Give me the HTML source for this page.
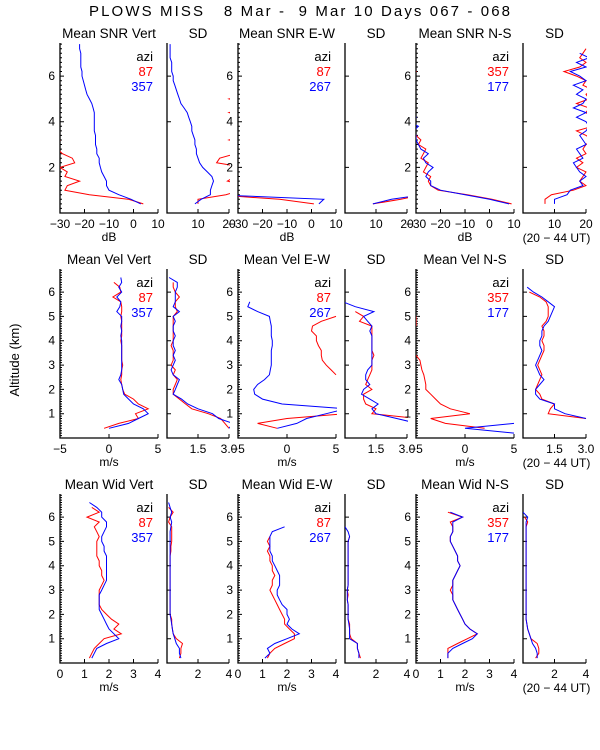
<!DOCTYPE html>
<html><head><meta charset="utf-8"><style>
html,body{margin:0;padding:0;background:#fff;}
svg{display:block;font-family:"Liberation Sans",sans-serif;}
</style></head><body>
<svg id="chart" width="600" height="750" viewBox="0 0 600 750">
<text x="89" y="16" font-size="15" textLength="421" lengthAdjust="spacing" xml:space="preserve">PLOWS MISS   8 Mar -  9 Mar 10 Days 067 - 068</text>
<text transform="translate(19,360) rotate(-90)" font-size="13" text-anchor="middle">Altitude (km)</text>
</svg>
<script>
// ---- data ----
const altRow1 = [0.2,0.4,0.6,0.8,1.0,1.2,1.4,1.6,1.8,2.0,2.2,2.4,2.6,2.8,3.0,3.2,3.4,3.6,3.8,4.0,4.2,4.4,4.6,4.8,5.0,5.2,5.4,5.6,5.8,6.0,6.2,6.4,6.6,6.8,7.0,7.2,7.4];
const altRow23 = [0.2,0.4,0.6,0.8,1.0,1.2,1.4,1.6,1.8,2.0,2.2,2.4,2.6,2.8,3.0,3.2,3.4,3.6,3.8,4.0,4.2,4.4,4.6,4.8,5.0,5.2,5.4,5.6,5.8,6.0,6.2,6.4,6.6];
const N=null;
// Row 1 SNR (dB)
const snrVertRed  = [N,4,-2,-18,-28,-27,-22,-28,-27,-30,-24,-25,-29,-31,-31,-30,N,N,N,N,N,N,N,N,N,N,N,N,N,N,N,N,N,N,N,N,N];
const snrVertBlue = [N,3,-1,-6,-10,-11,-11,-12,-13,-13.5,-14,-14,-15,-15,-15.5,-15.5,-15.5,-16,-16,-16,-16,-16,-16.5,-17,-18,-19,-19.5,-20,-20.5,-21,-21,-21.5,-21.5,-21.5,-21.5,-22,-22];
const sdSnrVertRed  = [N,10,10,19,24,25,19.5,22,25,25,16,17,22,25,25,20,25,25,25,25,25,20,25,25,20,25,25,25,25,25,25,25,25,25,25,25,25];
const sdSnrVertBlue = [N,9,11,14,14,14.5,15,14.5,13,11.5,10.5,10,9.5,9.5,9,9,8.5,8,8,7.5,7,6.5,5.5,4.5,4,3.5,3,2.5,2,2,1.5,1.5,1.5,1,1,1,1];
const snrEWRed  = [N,1,-13,-40,N,N,N,N,N,N,N,N,N,N,N,N,N,N,N,N,N,N,N,N,N,N,N,N,N,N,N,N,N,N,N,N,N];
const snrEWBlue = [N,3,5,-40,N,N,N,N,N,N,N,N,N,N,N,N,N,N,N,N,N,N,N,N,N,N,N,N,N,N,N,N,N,N,N,N,N];
const sdSnrEWRed  = [N,9,18,25,N,N,N,N,N,N,N,N,N,N,N,N,N,N,N,N,N,N,N,N,N,N,N,N,N,N,N,N,N,N,N,N,N];
const sdSnrEWBlue = [N,9,15,25,N,N,N,N,N,N,N,N,N,N,N,N,N,N,N,N,N,N,N,N,N,N,N,N,N,N,N,N,N,N,N,N,N];
const snrNSRed  = [N,9,1,-9,-21,-24,-25,-24,-27,-26,-25,-28,-27,-26,-29,-28,-30,-31,-32,-33,-32,-33,-33,-33,-33,-33,-33,-33,-33,-33,-30,-33,-33,-33,-33,-33,-33];
const snrNSBlue = [N,8,0,-10,-20,-24,-24,-26,-25,-23,-26,-27,-25,-28,-29,-30,-30,-31,-29,-33,-30,-33,-33,-31,-33,-31,-33,-33,-33,-33,-33,-33,-33,-33,-33,-33,-33];
const sdSnrNSRed  = [N,7,7,9,16,20,18,19,20,17,19,17,20,19,20,22,20,17,22,21,22,20,21,17,21,20,22,19,20,17,13,18,20,18,19,20,N];
const sdSnrNSBlue = [N,10,10,14,15,19,18,20,18,17,16,19,18,17,20,19,18,20,21,20,17,20,16,19,20,17,19,16,20,18,15,20,17,21,18,N,N];
// Row 2 velocity (m/s)
const velVertRed  = [N,-0.5,1,3,2.7,4,3,2.5,1.6,1.4,1.3,1.2,1.3,1.3,1.4,1.3,1.3,1.3,1.3,1.2,1.3,1.3,1.3,1.3,1.2,1.3,1.3,1.2,0.4,1.2,1.1,0.5,N];
const velVertBlue = [N,0,2,3,4,3.5,2.5,2,1.5,1.4,1.3,1,1.2,1.3,1.3,1.3,1.3,1.3,1.3,1.3,1.2,1.3,1.2,1.3,1.3,0.8,1.1,1.2,0.8,1.3,1,1.3,1.2];
const sdVelVertRed  = [N,3.0,2.8,2.6,2.0,1.2,0.9,0.6,0.3,0.3,0.4,0.5,0.3,0.4,0.2,0.3,0.3,0.3,0.2,0.3,0.3,0.3,0.3,0.3,0.3,0.5,0.4,0.4,0.6,0.4,0.3,0.3,N];
const sdVelVertBlue = [N,3.0,3.2,2.5,2.2,1.5,1.0,0.7,0.3,0.4,0.5,0.6,0.3,0.2,0.3,0.4,0.3,0.4,0.3,0.3,0.4,0.3,0.3,0.4,0.3,0.6,0.3,0.4,0.4,0.4,0.5,0.5,0.1];
const velEWRed  = [N,-1,-3,0,6,N,N,N,N,N,N,N,5,4.5,4,3.6,3.5,3.5,3.2,3,3,2.5,2.6,3.5,5,N,N,N,N,N,N,N,N];
const velEWBlue = [N,-1,1,2,4,6,-0.5,-2.5,-3.3,-3.4,-3,-2.3,-1.8,-1.7,-1.6,-1.6,-1.6,-1.6,-1.5,-1.5,-1.6,-1.6,-1.6,-1.7,-1.8,-3,-4,-3.8,N,N,N,N,N];
const sdVelEWRed  = [N,N,N,3.5,1.3,1.5,1.0,0.9,0.9,1.3,1.0,1.1,1.2,1.3,1.3,1.3,1.4,1.3,1.3,1.3,1.3,1.3,1.3,0.7,0.9,0.5,N,N,N,N,N,N,N];
const sdVelEWBlue = [N,N,3.5,2.5,1.5,1.3,1.6,1.2,0.8,0.9,1.2,1.0,1.0,1.1,1.3,1.3,1.3,1.3,1.3,1.3,1.3,1.2,1.3,1.1,0.9,1.4,0.5,-0.1,N,N,N,N,N];
const velNSRed  = [N,2,-2,-3.5,0.5,-1.5,-2.5,-3,-3.5,-4,-4,-4.1,-4.2,-4.4,-4.5,-4.6,-5,N,N,N,N,N,-5,-5,-5,N,N,N,N,N,N,N,N];
const velNSBlue = [5,0,5,N,N,N,N,N,N,N,N,N,N,N,N,N,N,N,N,N,N,N,N,N,N,N,N,N,N,N,N,N,N];
const sdVelNSRed  = [N,N,N,3,1.2,1.3,1.5,0.9,0.8,0.6,0.7,0.8,0.9,0.8,0.7,0.8,0.9,1.0,1.0,0.9,1.0,1.0,0.9,1.1,1.2,1.2,1.2,1.1,0.8,0.3,N,N,N];
const sdVelNSBlue = [N,N,N,3,2,1.5,1.5,0.8,0.6,0.6,0.8,1.0,0.8,0.7,0.6,0.7,0.8,0.9,0.8,0.8,0.9,0.9,1.0,1.2,1.3,1.4,1.5,1.2,0.9,0.5,0.2,N,N];
// Row 3 spectral width (m/s)
const widVertRed  = [1.2,1.3,1.4,1.6,1.8,2.5,2.2,2.4,2.1,1.9,1.7,1.6,1.6,1.6,1.6,1.7,1.8,1.7,1.7,1.6,1.6,1.5,1.5,1.5,1.5,1.6,1.5,1.4,1.6,1.1,1.6,1.3,N];
const widVertBlue = [1.3,1.4,1.5,1.9,2.4,2.2,2.0,1.9,1.8,1.7,1.6,1.6,1.6,1.6,1.7,1.8,1.9,1.9,1.9,1.9,1.9,1.9,1.8,1.8,1.7,1.7,1.8,1.9,1.9,1.7,1.7,1.5,1.2];
const sdWidVertRed  = [0.8,0.9,0.9,1.0,0.6,0.4,0.35,0.3,0.3,0.2,0.2,0.2,0.2,0.2,0.2,0.2,0.2,0.2,0.2,0.2,0.2,0.2,0.25,0.25,0.3,0.3,0.3,0.3,0.1,0.2,0.4,0.1,N];
const sdWidVertBlue = [0.9,0.8,0.8,0.6,0.5,0.4,0.35,0.3,0.25,0.2,0.2,0.2,0.2,0.2,0.2,0.2,0.2,0.2,0.2,0.2,0.2,0.2,0.2,0.2,0.2,0.2,0.2,0.25,0.3,0.2,0.3,0.2,0.1];
const widEWRed  = [1.2,1.3,1.5,1.9,2.3,2.3,2.1,1.9,1.9,1.8,1.7,1.6,1.5,1.4,1.3,1.4,1.4,1.5,1.4,1.4,1.3,1.3,1.2,1.3,1.2,1.3,N,N,N,N,N,N,N];
const widEWBlue = [1.1,1.3,1.2,1.5,2.0,2.5,2.2,2.0,2.1,2.0,2.0,1.8,1.7,1.6,1.6,1.7,1.7,1.7,1.6,1.5,1.4,1.4,1.3,1.3,1.3,1.3,1.4,1.9,N,N,N,N,N];
const sdWidEWRed  = [1.0,0.9,0.8,0.8,0.4,0.3,0.3,0.3,0.2,0.2,0.2,0.2,0.15,0.2,0.15,0.2,0.2,0.2,0.2,0.2,0.2,0.2,0.2,0.2,0.2,0.3,N,N,N,N,N,N,N];
const sdWidEWBlue = [0.9,0.9,0.8,0.8,0.3,0.3,0.3,0.25,0.2,0.2,0.2,0.2,0.15,0.15,0.15,0.2,0.2,0.2,0.2,0.2,0.2,0.2,0.2,0.2,0.2,0.3,0.2,0.0,N,N,N,N,N];
const widNSRed  = [1.3,1.3,1.3,1.7,2.1,2.5,2.2,2.0,1.9,1.8,1.7,1.6,1.5,1.5,1.4,1.5,1.5,1.6,1.7,1.8,1.7,1.7,1.6,1.5,1.4,1.4,1.5,1.5,1.4,1.9,1.3,N,N];
const widNSBlue = [1.3,1.3,1.5,1.9,2.3,2.5,2.2,2.0,1.9,1.8,1.7,1.6,1.5,1.5,1.5,1.5,1.5,1.6,1.7,1.8,1.7,1.7,1.6,1.5,1.4,1.4,1.5,1.5,1.5,1.9,1.4,N,N];
const sdWidNSRed  = [0.8,1.0,1.0,0.9,0.5,0.4,0.3,0.25,0.2,0.2,0.2,0.2,0.2,0.2,0.2,0.2,0.2,0.2,0.2,0.2,0.2,0.2,0.2,0.2,0.2,0.2,0.2,0.2,0.3,0.1,N,N,N];
const sdWidNSBlue = [0.9,0.9,0.8,0.6,0.5,0.4,0.3,0.25,0.2,0.2,0.2,0.2,0.2,0.2,0.2,0.2,0.2,0.2,0.2,0.2,0.2,0.2,0.2,0.2,0.2,0.2,0.2,0.2,0.2,0.3,0.0,N,N];
// ticks and tick labels
const snrTicks=[-30,-20,-10,0,10], snrTickLabels=['\u221230','\u221220','\u221210','0','10'];
const sdSnrTicks=[10,20], sdSnrTickLabels=['10','20'];
const velTicks=[-5,0,5], velTickLabels=['\u22125','0','5'];
const sdVelTicks=[1.5,3.0], sdVelTickLabels=['1.5','3.0'];
const widTicks=[0,1,2,3,4], widTickLabels=['0','1','2','3','4'];
const sdWidTicks=[2,4], sdWidTickLabels=['2','4'];
const row1YLabels=[2,4,6], row23YLabels=[1,2,3,4,5,6];

// ---- layout ----
const svg=document.getElementById('chart');
const NS='http://www.w3.org/2000/svg';
function mk(tag,attrs,parent){const e=document.createElementNS(NS,tag);for(const k in attrs)e.setAttribute(k,attrs[k]);(parent||svg).appendChild(e);return e;}
const cols=[[60,158],[167,229],[238,336],[345,407],[416,514],[523,586]];
const rows=[
 {top:43,bot:213,ymax:7.45,alt:altRow1,ylab:row1YLabels,minor:0.2},
 {top:269,bot:438,ymax:6.95,alt:altRow23,ylab:row23YLabels,minor:0.1},
 {top:494,bot:663,ymax:6.95,alt:altRow23,ylab:row23YLabels,minor:0.1}];
const panels=[
 [0,0,'Mean SNR Vert',-30,10,snrTicks,snrTickLabels,snrVertRed,snrVertBlue,'dB',['87','357']],
 [0,1,'SD',0,20,sdSnrTicks,sdSnrTickLabels,sdSnrVertRed,sdSnrVertBlue,'',null],
 [0,2,'Mean SNR E-W',-30,10,snrTicks,snrTickLabels,snrEWRed,snrEWBlue,'dB',['87','267']],
 [0,3,'SD',0,20,sdSnrTicks,sdSnrTickLabels,sdSnrEWRed,sdSnrEWBlue,'',null],
 [0,4,'Mean SNR N-S',-30,10,snrTicks,snrTickLabels,snrNSRed,snrNSBlue,'dB',['357','177']],
 [0,5,'SD',0,20,sdSnrTicks,sdSnrTickLabels,sdSnrNSRed,sdSnrNSBlue,'',null],
 [1,0,'Mean Vel Vert',-5,5,velTicks,velTickLabels,velVertRed,velVertBlue,'m/s',['87','357']],
 [1,1,'SD',0,3,sdVelTicks,sdVelTickLabels,sdVelVertRed,sdVelVertBlue,'',null],
 [1,2,'Mean Vel E-W',-5,5,velTicks,velTickLabels,velEWRed,velEWBlue,'m/s',['87','267']],
 [1,3,'SD',0,3,sdVelTicks,sdVelTickLabels,sdVelEWRed,sdVelEWBlue,'',null],
 [1,4,'Mean Vel N-S',-5,5,velTicks,velTickLabels,velNSRed,velNSBlue,'m/s',['357','177']],
 [1,5,'SD',0,3,sdVelTicks,sdVelTickLabels,sdVelNSRed,sdVelNSBlue,'',null],
 [2,0,'Mean Wid Vert',0,4,widTicks,widTickLabels,widVertRed,widVertBlue,'m/s',['87','357']],
 [2,1,'SD',0,4,sdWidTicks,sdWidTickLabels,sdWidVertRed,sdWidVertBlue,'',null],
 [2,2,'Mean Wid E-W',0,4,widTicks,widTickLabels,widEWRed,widEWBlue,'m/s',['87','267']],
 [2,3,'SD',0,4,sdWidTicks,sdWidTickLabels,sdWidEWRed,sdWidEWBlue,'',null],
 [2,4,'Mean Wid N-S',0,4,widTicks,widTickLabels,widNSRed,widNSBlue,'m/s',['357','177']],
 [2,5,'SD',0,4,sdWidTicks,sdWidTickLabels,sdWidNSRed,sdWidNSBlue,'',null]];
panels.forEach((p,pi)=>{
 const [ri,ci,title,x0,x1,ticks,tickLabels,red,blue,unit,leg]=p;
 const R=rows[ri],[L,Rt]=cols[ci];
 const xs=v=>L+(v-x0)/(x1-x0)*(Rt-L);
 const ys=a=>R.bot-a/R.ymax*(R.bot-R.top);
 const g=mk('g',{});
 
 
 const cp=mk('clipPath',{id:'cp'+pi},g);
 mk('rect',{x:L,y:R.top-2,width:Rt-L+1,height:R.bot-R.top+2},cp);
 const t=mk('text',{x:(L+Rt)/2,y:R.top-5,'font-size':13.5,'text-anchor':'middle'},g);t.textContent=title;
 
 
 const ax=mk('path',{d:`M${L},${R.top}V${R.bot}H${Rt}`,stroke:'#000','stroke-width':1.3,fill:'none'},g);
 
 
 let d='';
 const isMean=ci%2===0;
 for(let k=1;k*R.minor<=R.ymax;k++){const a=k*R.minor;const major=Math.abs(a-Math.round(a))<1e-6&&(ri>0||Math.round(a)%2===0);
  if(!isMean&&!major)continue; d+=`M${L},${ys(a).toFixed(1)}h${major?4:2}`;}
 ticks.forEach(v=>{d+=`M${xs(v).toFixed(1)},${R.bot}v-4`;});
 mk('path',{d:d,stroke:'#000','stroke-width':1,fill:'none'},g);
 if(isMean) R.ylab.forEach(v=>{const tt=mk('text',{x:L-5,y:ys(v)+4,'font-size':12,'text-anchor':'end'},g);tt.textContent=v;
  
  });
 ticks.forEach((v,i)=>{const tt=mk('text',{x:xs(v),y:R.bot+15,'font-size':12,'text-anchor':'middle'},g);tt.textContent=tickLabels[i];
  
  });
 if(unit){const u=mk('text',{x:(L+Rt)/2,y:R.bot+28,'font-size':12,'text-anchor':'middle'},g);u.textContent=unit;
  
  }
 if(ci===5){const u=mk('text',{x:(L+Rt)/2+2,y:R.bot+29,'font-size':12,'text-anchor':'middle'},g);u.textContent='(20 \u2212 44 UT)';
  
  }
 [[red,'#ff0000','red'],[blue,'#0000ff','blue']].forEach(([arr,col,nm])=>{
  let pd='',pen=false;
  arr.forEach((v,i)=>{if(v===null){pen=false;return;}pd+=(pen?'L':'M')+xs(v).toFixed(1)+','+ys(R.alt[i]).toFixed(1);pen=true;});
  const ln=mk('path',{d:pd,stroke:col,'stroke-width':1,fill:'none','clip-path':`url(#cp${pi})`},g);
  
  
 });
 if(leg){
  [['azi','#000'],[leg[0],'#ff0000'],[leg[1],'#0000ff']].forEach(([s,c],k)=>{
   const tt=mk('text',{x:Rt-5,y:R.top+18+k*15,'font-size':13,'text-anchor':'end',fill:c},g);tt.textContent=s;
   
   
  });
 }
});
</script>
</body></html>
